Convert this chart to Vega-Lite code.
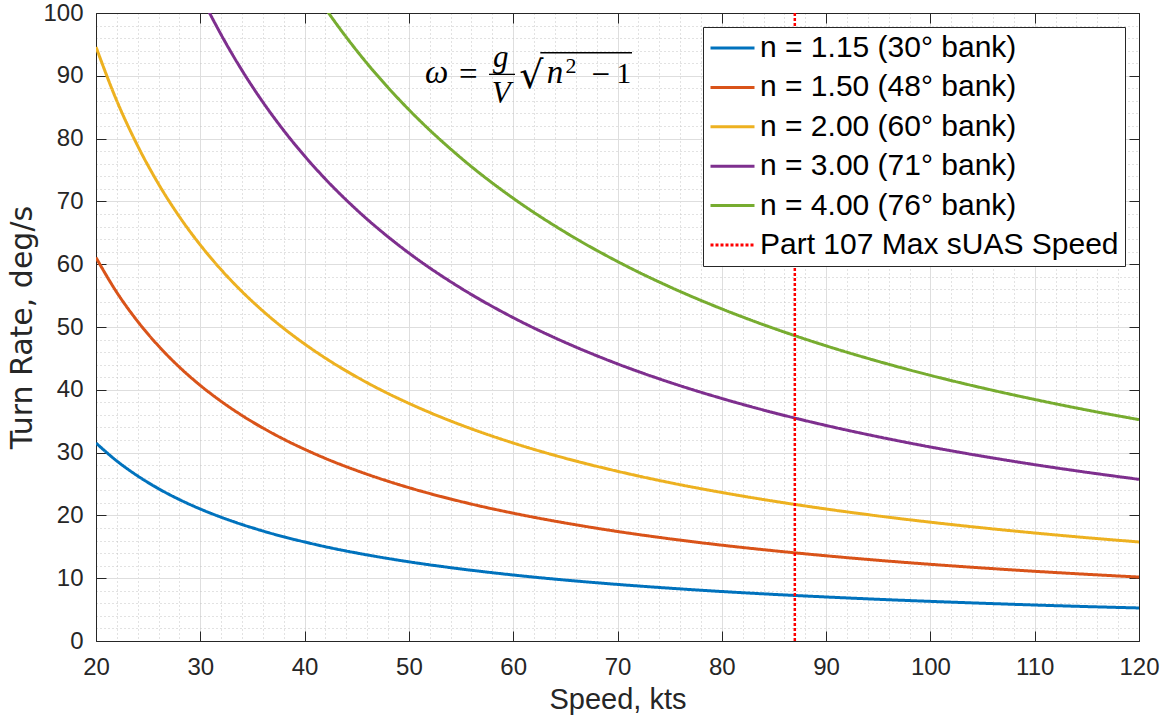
{
  "$schema": "https://vega.github.io/schema/vega-lite/v6.json",
  "width": 1043,
  "height": 628,
  "autosize": {"type": "none"},
  "padding": {"left": 96, "top": 13, "right": 26, "bottom": 84},
  "background": "white",
  "config": {
    "font": "Liberation Sans",
    "view": {"stroke": null},
    "axis": {
      "labelFont": "Liberation Sans",
      "titleFont": "Liberation Sans",
      "labelColor": "#262626",
      "titleColor": "#262626",
      "titleFontWeight": "normal",
      "domainColor": "#262626",
      "tickColor": "#262626"
    },
    "legend": {
      "orient": "none",
      "legendX": 607,
      "legendY": 14,
      "direction": "vertical",
      "fillColor": "white",
      "strokeColor": "#262626",
      "padding": 6,
      "symbolType": "stroke",
      "symbolSize": 1936,
      "symbolStrokeWidth": 3,
      "labelFont": "Liberation Sans",
      "labelFontSize": 30,
      "labelColor": "black",
      "labelOffset": 4,
      "clipHeight": 30,
      "rowPadding": 9.4,
      "labelLimit": 0
    }
  },
  "datasets": {
    "curves": [
      {"series": "n = 1.15 (30° bank)", "speed": 20, "rate": 31.53},
      {"series": "n = 1.15 (30° bank)", "speed": 22, "rate": 28.66},
      {"series": "n = 1.15 (30° bank)", "speed": 24, "rate": 26.28},
      {"series": "n = 1.15 (30° bank)", "speed": 26, "rate": 24.25},
      {"series": "n = 1.15 (30° bank)", "speed": 28, "rate": 22.52},
      {"series": "n = 1.15 (30° bank)", "speed": 30, "rate": 21.02},
      {"series": "n = 1.15 (30° bank)", "speed": 32, "rate": 19.71},
      {"series": "n = 1.15 (30° bank)", "speed": 34, "rate": 18.55},
      {"series": "n = 1.15 (30° bank)", "speed": 36, "rate": 17.52},
      {"series": "n = 1.15 (30° bank)", "speed": 38, "rate": 16.59},
      {"series": "n = 1.15 (30° bank)", "speed": 40, "rate": 15.77},
      {"series": "n = 1.15 (30° bank)", "speed": 42, "rate": 15.01},
      {"series": "n = 1.15 (30° bank)", "speed": 45, "rate": 14.01},
      {"series": "n = 1.15 (30° bank)", "speed": 48, "rate": 13.14},
      {"series": "n = 1.15 (30° bank)", "speed": 50, "rate": 12.61},
      {"series": "n = 1.15 (30° bank)", "speed": 55, "rate": 11.47},
      {"series": "n = 1.15 (30° bank)", "speed": 60, "rate": 10.51},
      {"series": "n = 1.15 (30° bank)", "speed": 65, "rate": 9.70},
      {"series": "n = 1.15 (30° bank)", "speed": 70, "rate": 9.01},
      {"series": "n = 1.15 (30° bank)", "speed": 75, "rate": 8.41},
      {"series": "n = 1.15 (30° bank)", "speed": 80, "rate": 7.88},
      {"series": "n = 1.15 (30° bank)", "speed": 85, "rate": 7.42},
      {"series": "n = 1.15 (30° bank)", "speed": 90, "rate": 7.01},
      {"series": "n = 1.15 (30° bank)", "speed": 95, "rate": 6.64},
      {"series": "n = 1.15 (30° bank)", "speed": 100, "rate": 6.31},
      {"series": "n = 1.15 (30° bank)", "speed": 105, "rate": 6.01},
      {"series": "n = 1.15 (30° bank)", "speed": 110, "rate": 5.73},
      {"series": "n = 1.15 (30° bank)", "speed": 115, "rate": 5.48},
      {"series": "n = 1.15 (30° bank)", "speed": 120, "rate": 5.26},

      {"series": "n = 1.50 (48° bank)", "speed": 20, "rate": 61.06},
      {"series": "n = 1.50 (48° bank)", "speed": 22, "rate": 55.50},
      {"series": "n = 1.50 (48° bank)", "speed": 24, "rate": 50.88},
      {"series": "n = 1.50 (48° bank)", "speed": 26, "rate": 46.97},
      {"series": "n = 1.50 (48° bank)", "speed": 28, "rate": 43.61},
      {"series": "n = 1.50 (48° bank)", "speed": 30, "rate": 40.70},
      {"series": "n = 1.50 (48° bank)", "speed": 32, "rate": 38.16},
      {"series": "n = 1.50 (48° bank)", "speed": 34, "rate": 35.91},
      {"series": "n = 1.50 (48° bank)", "speed": 36, "rate": 33.92},
      {"series": "n = 1.50 (48° bank)", "speed": 38, "rate": 32.13},
      {"series": "n = 1.50 (48° bank)", "speed": 40, "rate": 30.53},
      {"series": "n = 1.50 (48° bank)", "speed": 42, "rate": 29.07},
      {"series": "n = 1.50 (48° bank)", "speed": 45, "rate": 27.14},
      {"series": "n = 1.50 (48° bank)", "speed": 48, "rate": 25.44},
      {"series": "n = 1.50 (48° bank)", "speed": 50, "rate": 24.42},
      {"series": "n = 1.50 (48° bank)", "speed": 55, "rate": 22.20},
      {"series": "n = 1.50 (48° bank)", "speed": 60, "rate": 20.35},
      {"series": "n = 1.50 (48° bank)", "speed": 65, "rate": 18.79},
      {"series": "n = 1.50 (48° bank)", "speed": 70, "rate": 17.44},
      {"series": "n = 1.50 (48° bank)", "speed": 75, "rate": 16.28},
      {"series": "n = 1.50 (48° bank)", "speed": 80, "rate": 15.26},
      {"series": "n = 1.50 (48° bank)", "speed": 85, "rate": 14.37},
      {"series": "n = 1.50 (48° bank)", "speed": 90, "rate": 13.57},
      {"series": "n = 1.50 (48° bank)", "speed": 95, "rate": 12.85},
      {"series": "n = 1.50 (48° bank)", "speed": 100, "rate": 12.21},
      {"series": "n = 1.50 (48° bank)", "speed": 105, "rate": 11.63},
      {"series": "n = 1.50 (48° bank)", "speed": 110, "rate": 11.10},
      {"series": "n = 1.50 (48° bank)", "speed": 115, "rate": 10.62},
      {"series": "n = 1.50 (48° bank)", "speed": 120, "rate": 10.18},

      {"series": "n = 2.00 (60° bank)", "speed": 20, "rate": 94.59},
      {"series": "n = 2.00 (60° bank)", "speed": 22, "rate": 85.99},
      {"series": "n = 2.00 (60° bank)", "speed": 24, "rate": 78.83},
      {"series": "n = 2.00 (60° bank)", "speed": 26, "rate": 72.76},
      {"series": "n = 2.00 (60° bank)", "speed": 28, "rate": 67.56},
      {"series": "n = 2.00 (60° bank)", "speed": 30, "rate": 63.06},
      {"series": "n = 2.00 (60° bank)", "speed": 32, "rate": 59.12},
      {"series": "n = 2.00 (60° bank)", "speed": 34, "rate": 55.64},
      {"series": "n = 2.00 (60° bank)", "speed": 36, "rate": 52.55},
      {"series": "n = 2.00 (60° bank)", "speed": 38, "rate": 49.78},
      {"series": "n = 2.00 (60° bank)", "speed": 40, "rate": 47.30},
      {"series": "n = 2.00 (60° bank)", "speed": 42, "rate": 45.04},
      {"series": "n = 2.00 (60° bank)", "speed": 45, "rate": 42.04},
      {"series": "n = 2.00 (60° bank)", "speed": 48, "rate": 39.41},
      {"series": "n = 2.00 (60° bank)", "speed": 50, "rate": 37.84},
      {"series": "n = 2.00 (60° bank)", "speed": 55, "rate": 34.40},
      {"series": "n = 2.00 (60° bank)", "speed": 60, "rate": 31.53},
      {"series": "n = 2.00 (60° bank)", "speed": 65, "rate": 29.10},
      {"series": "n = 2.00 (60° bank)", "speed": 70, "rate": 27.03},
      {"series": "n = 2.00 (60° bank)", "speed": 75, "rate": 25.22},
      {"series": "n = 2.00 (60° bank)", "speed": 80, "rate": 23.65},
      {"series": "n = 2.00 (60° bank)", "speed": 85, "rate": 22.26},
      {"series": "n = 2.00 (60° bank)", "speed": 90, "rate": 21.02},
      {"series": "n = 2.00 (60° bank)", "speed": 95, "rate": 19.91},
      {"series": "n = 2.00 (60° bank)", "speed": 100, "rate": 18.92},
      {"series": "n = 2.00 (60° bank)", "speed": 105, "rate": 18.02},
      {"series": "n = 2.00 (60° bank)", "speed": 110, "rate": 17.20},
      {"series": "n = 2.00 (60° bank)", "speed": 115, "rate": 16.45},
      {"series": "n = 2.00 (60° bank)", "speed": 120, "rate": 15.77},

      {"series": "n = 3.00 (71° bank)", "speed": 28, "rate": 110.33},
      {"series": "n = 3.00 (71° bank)", "speed": 30, "rate": 102.97},
      {"series": "n = 3.00 (71° bank)", "speed": 32, "rate": 96.54},
      {"series": "n = 3.00 (71° bank)", "speed": 34, "rate": 90.86},
      {"series": "n = 3.00 (71° bank)", "speed": 36, "rate": 85.81},
      {"series": "n = 3.00 (71° bank)", "speed": 38, "rate": 81.29},
      {"series": "n = 3.00 (71° bank)", "speed": 40, "rate": 77.23},
      {"series": "n = 3.00 (71° bank)", "speed": 42, "rate": 73.55},
      {"series": "n = 3.00 (71° bank)", "speed": 45, "rate": 68.65},
      {"series": "n = 3.00 (71° bank)", "speed": 48, "rate": 64.36},
      {"series": "n = 3.00 (71° bank)", "speed": 50, "rate": 61.78},
      {"series": "n = 3.00 (71° bank)", "speed": 55, "rate": 56.17},
      {"series": "n = 3.00 (71° bank)", "speed": 60, "rate": 51.49},
      {"series": "n = 3.00 (71° bank)", "speed": 65, "rate": 47.53},
      {"series": "n = 3.00 (71° bank)", "speed": 70, "rate": 44.13},
      {"series": "n = 3.00 (71° bank)", "speed": 75, "rate": 41.19},
      {"series": "n = 3.00 (71° bank)", "speed": 80, "rate": 38.62},
      {"series": "n = 3.00 (71° bank)", "speed": 85, "rate": 36.34},
      {"series": "n = 3.00 (71° bank)", "speed": 90, "rate": 34.32},
      {"series": "n = 3.00 (71° bank)", "speed": 95, "rate": 32.52},
      {"series": "n = 3.00 (71° bank)", "speed": 100, "rate": 30.89},
      {"series": "n = 3.00 (71° bank)", "speed": 105, "rate": 29.42},
      {"series": "n = 3.00 (71° bank)", "speed": 110, "rate": 28.08},
      {"series": "n = 3.00 (71° bank)", "speed": 115, "rate": 26.86},
      {"series": "n = 3.00 (71° bank)", "speed": 120, "rate": 25.74},

      {"series": "n = 4.00 (76° bank)", "speed": 40, "rate": 105.75},
      {"series": "n = 4.00 (76° bank)", "speed": 42, "rate": 100.72},
      {"series": "n = 4.00 (76° bank)", "speed": 45, "rate": 94.00},
      {"series": "n = 4.00 (76° bank)", "speed": 48, "rate": 88.13},
      {"series": "n = 4.00 (76° bank)", "speed": 50, "rate": 84.60},
      {"series": "n = 4.00 (76° bank)", "speed": 55, "rate": 76.91},
      {"series": "n = 4.00 (76° bank)", "speed": 60, "rate": 70.50},
      {"series": "n = 4.00 (76° bank)", "speed": 65, "rate": 65.08},
      {"series": "n = 4.00 (76° bank)", "speed": 70, "rate": 60.43},
      {"series": "n = 4.00 (76° bank)", "speed": 75, "rate": 56.40},
      {"series": "n = 4.00 (76° bank)", "speed": 80, "rate": 52.88},
      {"series": "n = 4.00 (76° bank)", "speed": 85, "rate": 49.77},
      {"series": "n = 4.00 (76° bank)", "speed": 90, "rate": 47.00},
      {"series": "n = 4.00 (76° bank)", "speed": 95, "rate": 44.53},
      {"series": "n = 4.00 (76° bank)", "speed": 100, "rate": 42.30},
      {"series": "n = 4.00 (76° bank)", "speed": 105, "rate": 40.29},
      {"series": "n = 4.00 (76° bank)", "speed": 110, "rate": 38.46},
      {"series": "n = 4.00 (76° bank)", "speed": 115, "rate": 36.78},
      {"series": "n = 4.00 (76° bank)", "speed": 120, "rate": 35.25}
    ],
    "limit": [
      {"series": "Part 107 Max sUAS Speed", "speed": 87}
    ],
    "one": [{}]
  },
  "layer": [
    {
      "data": {"name": "curves"},
      "mark": {"type": "line", "clip": true, "strokeWidth": 3, "interpolate": "monotone"},
      "encoding": {
        "x": {
          "field": "speed", "type": "quantitative",
          "scale": {"domain": [20, 120], "nice": false, "zero": false},
          "axis": {
            "orient": "bottom",
            "values": [20,22,24,26,28,30,32,34,36,38,40,42,44,46,48,50,52,54,56,58,60,62,64,66,68,70,72,74,76,78,80,82,84,86,88,90,92,94,96,98,100,102,104,106,108,110,112,114,116,118,120],
            "format": "d",
            "labelExpr": "datum.value % 10 === 0 ? datum.label : ''",
            "labelOverlap": false, "labelFlush": false, "labelBound": false,
            "labelFontSize": 24, "labelPadding": 24,
            "tickSize": -10,
            "tickOpacity": {"condition": {"test": "datum.value % 10 === 0", "value": 1}, "value": 0},
            "grid": true,
            "gridColor": {"condition": {"test": "datum.value % 10 === 0", "value": "#dedede"}, "value": "#c4c4c4"},
            "gridDash": {"condition": {"test": "datum.value % 10 === 0", "value": []}, "value": [1, 3]},
            "title": "Speed, kts", "titleFontSize": 29, "titlePadding": 6
          }
        },
        "y": {
          "field": "rate", "type": "quantitative",
          "scale": {"domain": [0, 100], "nice": false},
          "axis": {
            "orient": "left",
            "values": [0,2,4,6,8,10,12,14,16,18,20,22,24,26,28,30,32,34,36,38,40,42,44,46,48,50,52,54,56,58,60,62,64,66,68,70,72,74,76,78,80,82,84,86,88,90,92,94,96,98,100],
            "format": "d",
            "labelExpr": "datum.value % 10 === 0 ? datum.label : ''",
            "labelOverlap": false, "labelFlush": false, "labelBound": false,
            "labelFontSize": 24, "labelPadding": 23,
            "tickSize": -10,
            "tickOpacity": {"condition": {"test": "datum.value % 10 === 0", "value": 1}, "value": 0},
            "grid": true,
            "gridColor": {"condition": {"test": "datum.value % 10 === 0", "value": "#dedede"}, "value": "#c4c4c4"},
            "gridDash": {"condition": {"test": "datum.value % 10 === 0", "value": []}, "value": [1, 3]},
            "title": "Turn Rate, deg/s", "titleFont": "DejaVu Sans", "titleFontSize": 30, "titlePadding": 5
          }
        },
        "color": {
          "field": "series", "type": "nominal",
          "scale": {
            "domain": ["n = 1.15 (30° bank)", "n = 1.50 (48° bank)", "n = 2.00 (60° bank)", "n = 3.00 (71° bank)", "n = 4.00 (76° bank)", "Part 107 Max sUAS Speed"],
            "range": ["#0072BD", "#D95319", "#EDB120", "#7E2F8E", "#77AC30", "#FF0000"]
          },
          "legend": {"title": null}
        },
        "strokeDash": {
          "field": "series", "type": "nominal",
          "scale": {
            "domain": ["n = 1.15 (30° bank)", "n = 1.50 (48° bank)", "n = 2.00 (60° bank)", "n = 3.00 (71° bank)", "n = 4.00 (76° bank)", "Part 107 Max sUAS Speed"],
            "range": [[1, 0], [1, 0], [1, 0], [1, 0], [1, 0], [3, 2]]
          },
          "legend": {"title": null}
        }
      }
    },
    {
      "data": {"name": "limit"},
      "mark": {"type": "rule", "strokeWidth": 2.5},
      "encoding": {
        "x": {"field": "speed", "type": "quantitative", "axis": null},
        "color": {"field": "series", "type": "nominal", "legend": {"title": null}},
        "strokeDash": {"field": "series", "type": "nominal", "legend": {"title": null}}
      }
    },
    {
      "data": {"name": "one"},
      "mark": {"type": "rule", "color": "black", "strokeWidth": 1.3},
      "encoding": {
        "x": {"datum": 57.68, "type": "quantitative",
          "axis": {"orient": "top", "values": [20,30,40,50,60,70,80,90,100,110,120], "labels": false, "grid": false, "tickSize": -10, "title": null}},
        "x2": {"datum": 60.17},
        "y": {"datum": 90.23, "type": "quantitative",
          "axis": {"orient": "right", "values": [0,10,20,30,40,50,60,70,80,90,100], "labels": false, "grid": false, "tickSize": -10, "title": null}}
      }
    },
    {
      "data": {"name": "one"},
      "mark": {"type": "rule", "color": "black", "strokeWidth": 1.3},
      "encoding": {
        "x": {"datum": 62.6, "type": "quantitative", "axis": null},
        "x2": {"datum": 71.39},
        "y": {"datum": 93.67, "type": "quantitative", "axis": null}
      }
    },
    {
      "data": {"name": "one"},
      "mark": {"type": "text", "text": "ω", "font": "Liberation Serif", "fontStyle": "italic", "fontSize": 33, "align": "center", "baseline": "alphabetic", "color": "black"},
      "encoding": {
        "x": {"datum": 52.65, "type": "quantitative", "axis": null},
        "y": {"datum": 88.85, "type": "quantitative", "axis": null}
      }
    },
    {
      "data": {"name": "one"},
      "mark": {"type": "text", "text": "=", "font": "Liberation Serif", "fontSize": 33, "align": "center", "baseline": "alphabetic", "color": "black"},
      "encoding": {
        "x": {"datum": 55.7, "type": "quantitative", "axis": null},
        "y": {"datum": 88.6, "type": "quantitative", "axis": null}
      }
    },
    {
      "data": {"name": "one"},
      "mark": {"type": "text", "text": "g", "font": "Liberation Serif", "fontStyle": "italic", "fontSize": 31, "align": "center", "baseline": "alphabetic", "color": "black"},
      "encoding": {
        "x": {"datum": 58.8, "type": "quantitative", "axis": null},
        "y": {"datum": 91.4, "type": "quantitative", "axis": null}
      }
    },
    {
      "data": {"name": "one"},
      "mark": {"type": "text", "text": "V", "font": "Liberation Serif", "fontStyle": "italic", "fontSize": 31, "align": "center", "baseline": "alphabetic", "color": "black"},
      "encoding": {
        "x": {"datum": 58.85, "type": "quantitative", "axis": null},
        "y": {"datum": 85.67, "type": "quantitative", "axis": null}
      }
    },
    {
      "data": {"name": "one"},
      "mark": {"type": "text", "text": "√", "font": "DejaVu Serif", "fontSize": 38, "align": "center", "baseline": "alphabetic", "color": "black"},
      "encoding": {
        "x": {"datum": 61.75, "type": "quantitative", "axis": null},
        "y": {"datum": 88.1, "type": "quantitative", "axis": null}
      }
    },
    {
      "data": {"name": "one"},
      "mark": {"type": "text", "text": "n", "font": "Liberation Serif", "fontStyle": "italic", "fontSize": 33, "align": "center", "baseline": "alphabetic", "color": "black"},
      "encoding": {
        "x": {"datum": 64.0, "type": "quantitative", "axis": null},
        "y": {"datum": 88.8, "type": "quantitative", "axis": null}
      }
    },
    {
      "data": {"name": "one"},
      "mark": {"type": "text", "text": "2", "font": "Liberation Serif", "fontSize": 22, "align": "center", "baseline": "alphabetic", "color": "black"},
      "encoding": {
        "x": {"datum": 65.55, "type": "quantitative", "axis": null},
        "y": {"datum": 90.45, "type": "quantitative", "axis": null}
      }
    },
    {
      "data": {"name": "one"},
      "mark": {"type": "text", "text": "−", "font": "Liberation Serif", "fontSize": 33, "align": "center", "baseline": "alphabetic", "color": "black"},
      "encoding": {
        "x": {"datum": 68.4, "type": "quantitative", "axis": null},
        "y": {"datum": 88.6, "type": "quantitative", "axis": null}
      }
    },
    {
      "data": {"name": "one"},
      "mark": {"type": "text", "text": "1", "font": "Liberation Serif", "fontSize": 30, "align": "center", "baseline": "alphabetic", "color": "black"},
      "encoding": {
        "x": {"datum": 70.6, "type": "quantitative", "axis": null},
        "y": {"datum": 88.85, "type": "quantitative", "axis": null}
      }
    }
  ],
  "resolve": {"axis": {"x": "independent", "y": "independent"}}
}
